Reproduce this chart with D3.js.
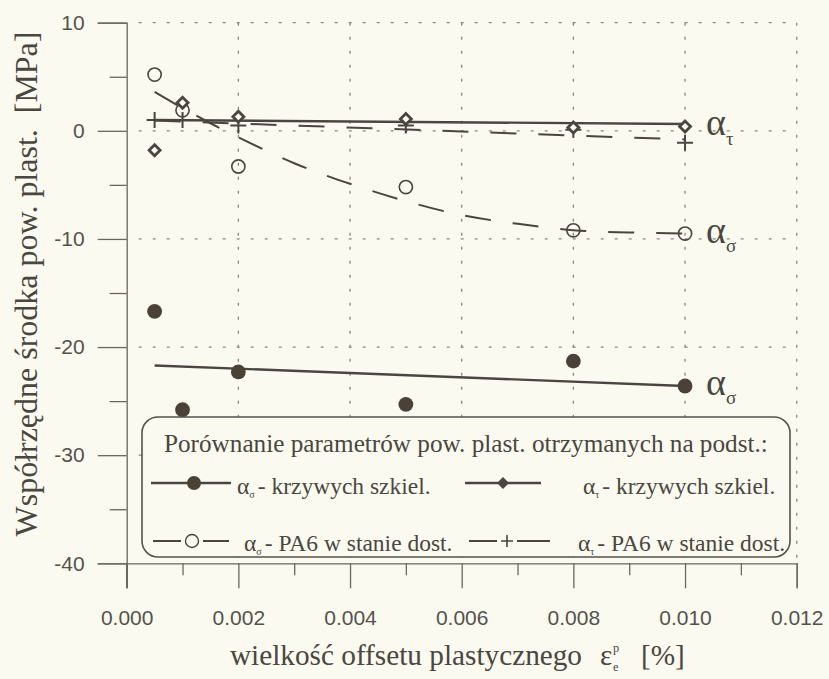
<!DOCTYPE html>
<html>
<head>
<meta charset="utf-8">
<script src="https://cdn.jsdelivr.net/npm/d3@7"></script>
<style>
  body { margin: 0; background: #fbfaf0; }
  svg { display: block; }
</style>
</head>
<body>
<script>
// Plastic offset values (x) at which the yield-surface centre was determined
const offsets = [0.0005, 0.001, 0.002, 0.005, 0.008, 0.010];
// Centre coordinates [MPa]
const sigmaSkeleton = [-16.7, -25.8, -22.3, -25.3, -21.3, -23.6];
const tauSkeleton   = [-1.8, 2.6, 1.3, 1.1, 0.3, 0.4];
const sigmaPA6      = [5.2, 1.9, -3.3, -5.2, -9.2, -9.5];
const tauPA6        = [1.0, 1.0, 0.5, 0.5, 0.1, -1.1];
// Fitted trend lines
const trendEnds          = [0.0005, 0.010];
const sigmaSkeletonTrend = [-21.7, -23.6];
const tauSkeletonTrend   = [1.0, 0.63];
const tauPA6Trend        = [0.95, -0.8];
const sigmaPA6TrendX = [0.0005, 0.001, 0.0015, 0.002, 0.003, 0.004, 0.005, 0.006, 0.007, 0.008, 0.009, 0.010];
const sigmaPA6TrendY = [3.6, 2.1, 0.7, -0.6, -3.0, -4.9, -6.5, -7.8, -8.6, -9.2, -9.4, -9.5];
// Axis ticks
const xTicks = [0, 0.002, 0.004, 0.006, 0.008, 0.010, 0.012];
const xMinorTicks = [0.001, 0.003, 0.005, 0.007, 0.009, 0.011];
const yTicks = [10, 0, -10, -20, -30, -40];
const yMinorTicks = [5, -5, -15, -25, -35];
const yTitle = "Współrzędne środka pow. plast.  [MPa]";
const xTitle = "wielkość offsetu plastycznego";
const legendTitle = "Porównanie parametrów pow. plast. otrzymanych na podst.:";
const legendLabels = ["- krzywych szkiel.", "- krzywych szkiel.", "- PA6 w stanie dost.", "- PA6 w stanie dost."];

const W = 829, H = 679;
const ink = "#4a4540", axisCol = "#6a6660", textCol = "#4a4640", bg = "#fbfaf0";
const serif = "'Liberation Serif', 'Times New Roman', serif";
const sans = "'Liberation Sans', Arial, sans-serif";

const svg = d3.select("body").append("svg").attr("width", W).attr("height", H);
svg.append("rect").attr("width", W).attr("height", H).attr("fill", bg);

const x = d3.scaleLinear().domain([0, 0.012]).range([126.7, 796.7]);
const y = d3.scaleLinear().domain([-40, 10]).range([563.3, 22.7]);

// scale a text's font so its run is the wanted length
function fitWidth(sel, len) {
  const w = sel.node().getComputedTextLength();
  sel.attr("font-size", +sel.attr("font-size") * len / w);
  return +sel.attr("font-size");
}

// dotted grid
const grid = svg.append("g").attr("stroke", "#8a8680").attr("stroke-width", 1.3)
  .attr("stroke-dasharray", "3,11").attr("fill", "none");
grid.selectAll("line.v").data(xTicks.slice(1)).join("line")
  .attr("x1", d => x(d)).attr("x2", d => x(d)).attr("y1", y(10)).attr("y2", y(-40));
grid.selectAll("line.h").data(yTicks.slice(0, 5)).join("line")
  .attr("class", "h")
  .attr("x1", x(0) + 12).attr("x2", x(0.012)).attr("y1", d => y(d)).attr("y2", d => y(d));

// axes
const yAxis = svg.append("g").attr("transform", `translate(${x(0)},0)`)
  .call(d3.axisLeft(y).tickValues(yTicks).tickSize(29).tickPadding(13).tickFormat(d => String(d)));
const yMinor = svg.append("g").attr("transform", `translate(${x(0)},0)`)
  .call(d3.axisLeft(y).tickValues(yMinorTicks).tickSize(17).tickFormat(""));
const xAxis = svg.append("g").attr("transform", `translate(0,${y(-40)})`)
  .call(d3.axisBottom(x).tickValues(xTicks).tickSize(25).tickPadding(22).tickFormat(d3.format(".3f")));
const xMinor = svg.append("g").attr("transform", `translate(0,${y(-40)})`)
  .call(d3.axisBottom(x).tickValues(xMinorTicks).tickSize(12).tickFormat(""));
[yAxis, yMinor, xAxis, xMinor].forEach(g => {
  g.select(".domain").attr("stroke", axisCol).attr("stroke-width", 1.3);
  g.selectAll(".tick line").attr("stroke", axisCol).attr("stroke-width", 1.3);
  g.selectAll(".tick text").attr("fill", "#55524d").attr("font-family", sans).attr("font-size", 21);
});
yMinor.select(".domain").remove();
xMinor.select(".domain").remove();
// y axis continues down to the 0.000 tick
svg.append("line").attr("x1", x(0)).attr("x2", x(0)).attr("y1", y(-40)).attr("y2", y(-40) + 25)
  .attr("stroke", axisCol).attr("stroke-width", 1.3);

// trend lines
const line = d3.line().x(d => x(d[0])).y(d => y(d[1]));
svg.append("path").datum(d3.zip(trendEnds, sigmaSkeletonTrend)).attr("d", line)
  .attr("fill", "none").attr("stroke", ink).attr("stroke-width", 2.4);
svg.append("path").datum(d3.zip(trendEnds, tauSkeletonTrend)).attr("d", line)
  .attr("fill", "none").attr("stroke", ink).attr("stroke-width", 2.4);
svg.append("path").datum(d3.zip(trendEnds, tauPA6Trend)).attr("d", line)
  .attr("fill", "none").attr("stroke", ink).attr("stroke-width", 2).attr("stroke-dasharray", "26,22");
svg.append("path").datum(d3.zip(sigmaPA6TrendX, sigmaPA6TrendY))
  .attr("d", line.curve(d3.curveMonotoneX))
  .attr("fill", "none").attr("stroke", ink).attr("stroke-width", 2).attr("stroke-dasharray", "26,22");

// markers
const diamond = (cx, cy, r) => `M${cx},${cy - r}L${cx + r},${cy}L${cx},${cy + r}L${cx - r},${cy}Z`;
svg.append("g").selectAll("circle").data(d3.zip(offsets, sigmaSkeleton)).join("circle")
  .attr("cx", d => x(d[0])).attr("cy", d => y(d[1])).attr("r", 7.4).attr("fill", "#4a4238");
svg.append("g").selectAll("circle").data(d3.zip(offsets, sigmaPA6)).join("circle")
  .attr("cx", d => x(d[0])).attr("cy", d => y(d[1])).attr("r", 6.6)
  .attr("fill", "none").attr("stroke", ink).attr("stroke-width", 1.6);
svg.append("g").selectAll("path").data(d3.zip(offsets, tauPA6)).join("path")
  .attr("d", d => { const cx = x(d[0]), cy = y(d[1]); return `M${cx - 8},${cy}H${cx + 8}M${cx},${cy - 8}V${cy + 8}`; })
  .attr("stroke", ink).attr("stroke-width", 2).attr("fill", "none");
svg.append("g").selectAll("path").data(d3.zip(offsets, tauSkeleton)).join("path")
  .attr("d", d => diamond(x(d[0]), y(d[1]), 5.5))
  .attr("fill", "#fbfaf0").attr("stroke", ink).attr("stroke-width", 2.8);

// series labels at the right end
function alphaLabel(g, px, py, size, sub) {
  const t = g.append("text").attr("x", px).attr("y", py).attr("font-family", serif)
    .attr("font-size", size).attr("fill", textCol);
  t.append("tspan").text("α");
  t.append("tspan").attr("font-size", size * 0.5).attr("dy", size * 0.24).text(sub);
  return t;
}
alphaLabel(svg, x(0.010) + 21, y(0.4) + 9, 38, "τ");
alphaLabel(svg, x(0.010) + 21, y(-9.5) + 9, 38, "σ");
alphaLabel(svg, x(0.010) + 21, y(-23.6) + 9, 38, "σ");

// legend
const lg = svg.append("g");
lg.append("rect").attr("x", 142).attr("y", 417).attr("width", 648).attr("height", 140).attr("rx", 16)
  .attr("fill", bg).attr("stroke", "#55524d").attr("stroke-width", 1.6);
const lt = lg.append("text").attr("x", 164).attr("y", 452)
  .attr("font-family", serif).attr("font-size", 20).attr("fill", textCol).text(legendTitle);
fitWidth(lt, 604);

const rowText = [494, 551];
const rowLine = [483, 541];
// filled-circle / diamond samples
lg.append("line").attr("x1", 151).attr("x2", 231).attr("y1", rowLine[0]).attr("y2", rowLine[0])
  .attr("stroke", ink).attr("stroke-width", 2.4);
lg.append("circle").attr("cx", 194).attr("cy", rowLine[0]).attr("r", 7).attr("fill", "#4a4238");
lg.append("line").attr("x1", 465).attr("x2", 541).attr("y1", rowLine[0]).attr("y2", rowLine[0])
  .attr("stroke", ink).attr("stroke-width", 2.4);
lg.append("path").attr("d", diamond(503, rowLine[0], 6)).attr("fill", ink);
// open-circle / cross samples
lg.append("path").attr("d", `M153,${rowLine[1]}H181M203,${rowLine[1]}H229`)
  .attr("stroke", ink).attr("stroke-width", 2);
lg.append("circle").attr("cx", 192).attr("cy", rowLine[1]).attr("r", 6.5)
  .attr("fill", "none").attr("stroke", ink).attr("stroke-width", 1.4);
lg.append("path").attr("d", `M469,${rowLine[1]}H497M517,${rowLine[1]}H550`)
  .attr("stroke", ink).attr("stroke-width", 2);
lg.append("path").attr("d", `M501,${rowLine[1]}H513M507,${rowLine[1] - 6}V${rowLine[1] + 6}`)
  .attr("stroke", ink).attr("stroke-width", 1.6);

const entries = [
  { px: 237, py: rowText[0], sub: "σ", label: legendLabels[0] },
  { px: 583, py: rowText[0], sub: "τ", label: legendLabels[1] },
  { px: 244, py: rowText[1], sub: "σ", label: legendLabels[2] },
  { px: 578, py: rowText[1], sub: "τ", label: legendLabels[3] }
];
entries.forEach(e => {
  const t = lg.append("text").attr("x", e.px).attr("y", e.py).attr("font-family", serif)
    .attr("font-size", 23.5).attr("fill", textCol);
  t.append("tspan").text("α");
  t.append("tspan").attr("font-size", 10).attr("dy", 4).text(e.sub);
  t.append("tspan").attr("dy", -4).attr("dx", 3).text(e.label);
});

// axis titles
const yt = svg.append("text").attr("transform", `translate(37,284) rotate(-90)`)
  .attr("text-anchor", "middle").attr("font-family", serif).attr("font-size", 24)
  .attr("fill", textCol).attr("xml:space", "preserve").text(yTitle);
fitWidth(yt, 505);

const xt = svg.append("text").attr("x", 230).attr("y", 665)
  .attr("font-family", serif).attr("font-size", 24).attr("fill", textCol).text(xTitle);
const fs = fitWidth(xt, 352);
svg.append("text").attr("x", 600).attr("y", 665).attr("font-family", serif)
  .attr("font-size", fs).attr("fill", textCol).text("ε");
svg.append("text").attr("x", 613).attr("y", 671).attr("font-family", serif)
  .attr("font-size", fs * 0.42).attr("fill", textCol).text("e");
svg.append("text").attr("x", 613).attr("y", 652).attr("font-family", serif)
  .attr("font-size", fs * 0.42).attr("fill", textCol).text("p");
svg.append("text").attr("x", 641).attr("y", 665).attr("font-family", serif)
  .attr("font-size", fs).attr("fill", textCol).text("[%]");
</script>
</body>
</html>
